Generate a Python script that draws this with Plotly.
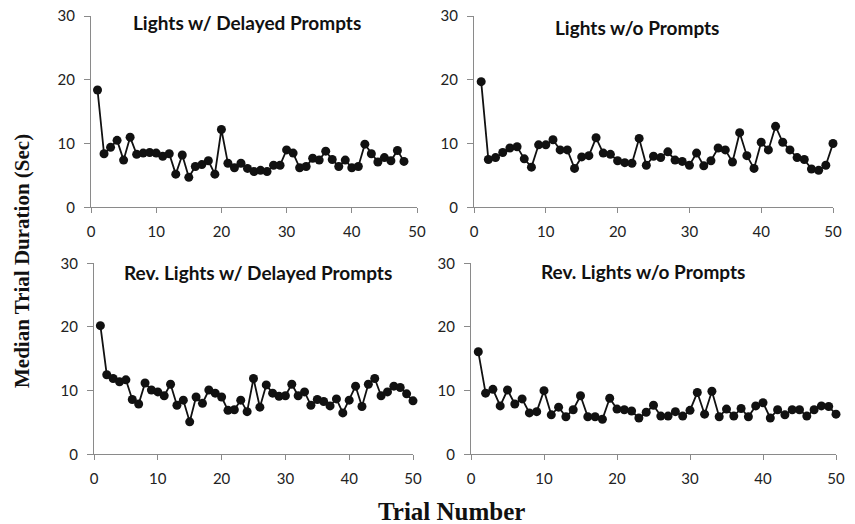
import plotly.graph_objects as go

W, H = 855, 524

trials_a = list(range(1, 49))
trials_b = list(range(1, 51))

lights_delayed = [18.4, 8.4, 9.4, 10.5, 7.4, 11.0, 8.3, 8.5, 8.6, 8.5, 8.0, 8.4, 5.2, 8.2, 4.7, 6.4,
                  6.7, 7.3, 5.2, 12.2, 6.9, 6.2, 6.9, 6.1, 5.6, 5.8, 5.6, 6.6, 6.6, 9.0, 8.5, 6.2,
                  6.4, 7.7, 7.4, 8.8, 7.5, 6.4, 7.4, 6.2, 6.4, 9.9, 8.4, 7.1, 7.8, 7.3, 8.9, 7.2]

lights_none = [19.7, 7.5, 7.8, 8.6, 9.3, 9.5, 7.6, 6.3, 9.8, 9.8, 10.6, 9.0, 9.0, 6.1, 7.9, 8.1,
               10.9, 8.5, 8.3, 7.3, 7.0, 6.9, 10.8, 6.6, 8.0, 7.8, 8.7, 7.4, 7.2, 6.6, 8.5, 6.5,
               7.3, 9.3, 9.0, 7.1, 11.7, 8.1, 6.1, 10.2, 9.0, 12.7, 10.2, 9.0, 7.8, 7.5, 6.0, 5.8,
               6.6, 10.0]

rev_delayed = [20.2, 12.5, 11.9, 11.4, 11.7, 8.6, 7.9, 11.2, 10.1, 9.8, 9.2, 11.0, 7.7, 8.5, 5.1, 9.0,
               8.0, 10.1, 9.6, 9.0, 6.9, 7.0, 8.5, 6.7, 11.9, 7.4, 10.9, 9.6, 9.1, 9.2, 11.0, 9.2,
               9.8, 7.7, 8.6, 8.3, 7.6, 8.7, 6.5, 8.5, 10.7, 7.5, 11.0, 11.9, 9.2, 9.8, 10.7, 10.5,
               9.5, 8.4]

rev_none = [16.1, 9.6, 10.2, 7.6, 10.1, 7.9, 8.7, 6.5, 6.7, 10.0, 6.2, 7.4, 5.9, 7.0, 9.2, 5.9,
            5.9, 5.5, 8.8, 7.1, 7.0, 6.8, 5.7, 6.6, 7.7, 6.0, 6.0, 6.7, 6.0, 6.9, 9.7, 6.3,
            9.9, 5.9, 7.1, 6.0, 7.2, 5.9, 7.6, 8.1, 5.7, 7.0, 6.2, 7.0, 7.0, 6.0, 7.0, 7.6,
            7.5, 6.3]

titles = ["Lights w/ Delayed Prompts", "Lights w/o Prompts",
          "Rev. Lights w/ Delayed Prompts", "Rev. Lights w/o Prompts"]
x_ticks = [0, 10, 20, 30, 40, 50]
y_ticks = [0, 10, 20, 30]

panels = [
    (trials_a, lights_delayed, (91, 417), (16, 207.3), (247, 23)),
    (trials_b, lights_none, (474, 833), (16, 207.3), (637, 27)),
    (trials_b, rev_delayed, (94, 413), (263.3, 454.3), (258, 272)),
    (trials_b, rev_none, (471, 836), (263.3, 454.3), (643, 271)),
]

fig = go.Figure()
annotations = []
for i, (xs, ys, (x0, x1), (ytop, ybot), (tx, ty)) in enumerate(panels):
    n = "" if i == 0 else str(i + 1)
    fig.add_trace(go.Scatter(
        x=xs, y=ys, mode="lines+markers",
        line=dict(color="#111111", width=1.8),
        marker=dict(color="#111111", size=9),
        cliponaxis=False,
        xaxis="x" + n, yaxis="y" + n, showlegend=False,
    ))
    axcommon = dict(showgrid=False, zeroline=False, showline=True, linecolor="#8a8a8a",
                    linewidth=1, ticks="outside", tickcolor="#8a8a8a", automargin=False,
                    tickfont=dict(family="Lato, Open Sans, sans-serif", size=15, color="#222222"))
    fig.update_layout(**{
        "xaxis" + n: dict(domain=[x0 / W, x1 / W], range=[0, 50], tickvals=x_ticks,
                          ticklen=5, ticklabelstandoff=6, anchor="y" + n, **axcommon),
        "yaxis" + n: dict(domain=[1 - ybot / H, 1 - ytop / H], range=[0, 30], tickvals=y_ticks,
                          ticklen=6, ticklabelstandoff=6, anchor="x" + n, **axcommon),
    })
    annotations.append(dict(text="<b>" + titles[i] + "</b>", x=tx / W, y=1 - ty / H,
                            xref="paper", yref="paper", showarrow=False,
                            xanchor="center", yanchor="middle",
                            font=dict(family="Lato, Open Sans, sans-serif", size=19, color="#111111")))

annotations.append(dict(text="<b>Median Trial Duration (Sec)</b>", x=22 / W, y=1 - 261 / H,
                        xref="paper", yref="paper", showarrow=False, textangle=-90,
                        xanchor="center", yanchor="middle",
                        font=dict(family="Liberation Serif, Times New Roman, serif", size=21, color="#111111")))
annotations.append(dict(text="<b>Trial Number</b>", x=451 / W, y=1 - 511 / H,
                        xref="paper", yref="paper", showarrow=False,
                        xanchor="center", yanchor="middle",
                        font=dict(family="Liberation Serif, Times New Roman, serif", size=25, color="#111111")))

fig.update_layout(width=W, height=H, margin=dict(l=0, r=0, t=0, b=0),
                  paper_bgcolor="white", plot_bgcolor="white", annotations=annotations,
                  hovermode=False)

fig.write_html("out.html", config={"displayModeBar": False, "staticPlot": True},
               post_script="document.body.style.margin='0';document.body.style.overflow='hidden';")
